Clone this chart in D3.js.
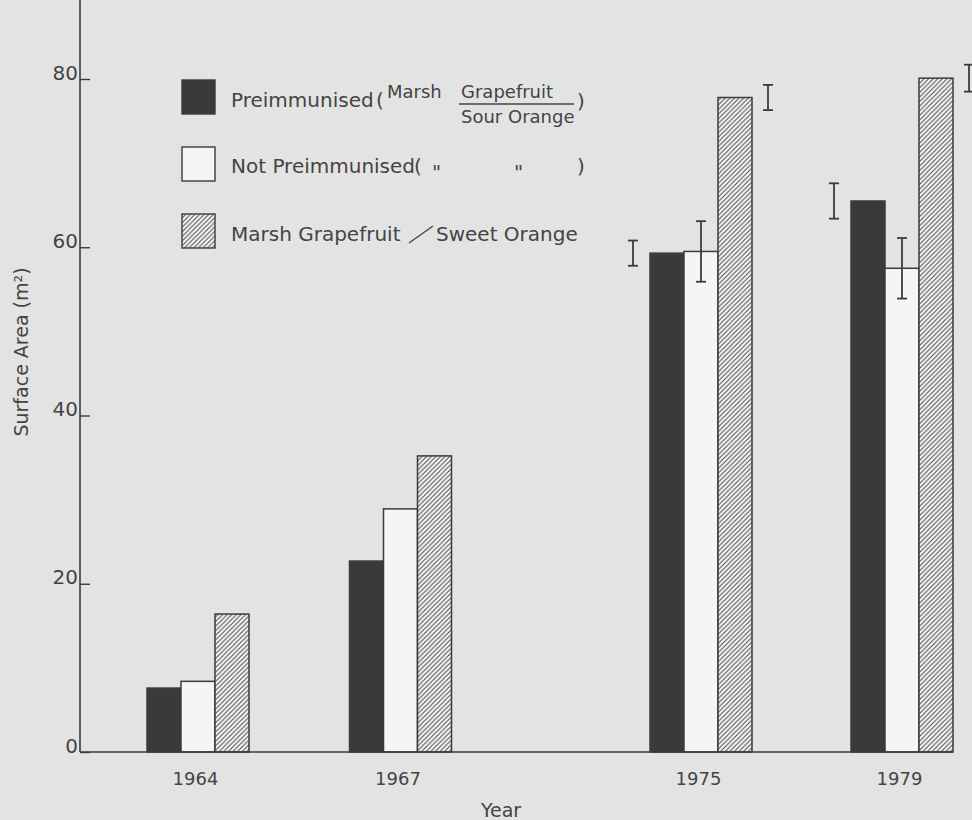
<!DOCTYPE html>
<html>
<head>
<meta charset="utf-8">
<script src="https://cdn.jsdelivr.net/npm/d3@7/dist/d3.min.js"></script>
<style>
  body { margin: 0; background: #e3e3e3; }
  svg { display: block; font-family: "DejaVu Sans", sans-serif; }
  .label-axis { font-size: 19px; fill: #444; }
  .label-axis-tick { font-size: 20px; fill: #444; }
  .label-axis-x-tick { font-size: 18px; fill: #444; }
  .legend-text { font-size: 20px; fill: #444; }
  .legend-small { font-size: 18px; fill: #444; }
</style>
</head>
<body>
<div id="chart"></div>
<script>
const years = [1964, 1967, 1975, 1979];
const yearLabels = ['1964', '1967', '1975', '1979'];
const seriesKeys = ['pre', 'notPre', 'sweet'];

const preimmunised = [7.6, 22.7, 59.3, 65.5];
const notPreimmunised = [8.4, 28.9, 59.5, 57.5];
const sweetOrange = [16.4, 35.2, 77.8, 80.1];

// half length of the error bars, only given for 1975 and 1979
const preimmunisedErr = [null, null, 1.5, 2.1];
const notPreimmunisedErr = [null, null, 3.6, 3.6];
const sweetOrangeErr = [null, null, 1.5, 1.6];

const yTicks = [0, 20, 40, 60, 80];

const width = 972;
const height = 820;
const axisLeftX = 80;
const axisRightX = 953;
const ink = '#3b3b3b';

const values = { pre: preimmunised, notPre: notPreimmunised, sweet: sweetOrange };
const errors = { pre: preimmunisedErr, notPre: notPreimmunisedErr, sweet: sweetOrangeErr };
const fills = { pre: '#3a3a3a', notPre: '#f5f5f5', sweet: 'url(#hatch)' };

const rows = years.flatMap((yr, i) =>
  seriesKeys.map((k) => ({ year: yr, key: k, value: values[k][i], err: errors[k][i] }))
);

const svg = d3
  .select('#chart')
  .append('svg')
  .attr('width', width)
  .attr('height', height)
  .attr('viewBox', '0 0 ' + width + ' ' + height);

// hatch pattern for the sweet orange bars
const pattern = svg
  .append('defs')
  .append('pattern')
  .attr('id', 'hatch')
  .attr('patternUnits', 'userSpaceOnUse')
  .attr('width', 4.6)
  .attr('height', 4.6);
pattern.append('rect').attr('width', 4.6).attr('height', 4.6).attr('fill', '#f5f5f5');
pattern
  .append('path')
  .attr('d', 'M0,4.6 L4.6,0 M-1,1 L1,-1 M3.6,5.6 L5.6,3.6')
  .attr('stroke', '#4a4a4a')
  .attr('stroke-width', 1);

const y = d3.scaleLinear().domain([0, 80]).range([752, 79]);
// groups are not evenly spaced in time, so the year scale is piecewise
const x = d3.scaleLinear().domain(years).range([198, 400.5, 701, 902]);
const band = d3.scaleBand().domain(seriesKeys).range([-51, 51]);

drawBars();
drawErrorBars();
drawAxisY();
drawAxisX();
drawLegend();

function drawBars() {
  svg
    .append('g')
    .selectAll('rect')
    .data(rows)
    .enter()
    .append('rect')
    .attr('x', (d) => x(d.year) + band(d.key))
    .attr('y', (d) => y(d.value))
    .attr('width', band.bandwidth())
    .attr('height', (d) => y(0) - y(d.value))
    .attr('fill', (d) => fills[d.key])
    .attr('stroke', ink)
    .attr('stroke-width', 1.5);
}

function errorX(d) {
  const left = x(d.year) + band(d.key);
  if (d.key === 'pre') return left - 17;
  if (d.key === 'sweet') return left + band.bandwidth() + 16;
  return left + band.bandwidth() / 2;
}

function drawErrorBars() {
  const g = svg.append('g').attr('stroke', ink).attr('stroke-width', 1.8);
  const withErr = rows.filter((d) => d.err != null);
  const cap = 5;

  g.selectAll('line.stem')
    .data(withErr)
    .enter()
    .append('line')
    .attr('class', 'stem')
    .attr('x1', errorX)
    .attr('x2', errorX)
    .attr('y1', (d) => y(d.value + d.err))
    .attr('y2', (d) => y(d.value - d.err));

  g.selectAll('line.cap-top')
    .data(withErr)
    .enter()
    .append('line')
    .attr('class', 'cap-top')
    .attr('x1', (d) => errorX(d) - cap)
    .attr('x2', (d) => errorX(d) + cap)
    .attr('y1', (d) => y(d.value + d.err))
    .attr('y2', (d) => y(d.value + d.err));

  g.selectAll('line.cap-bottom')
    .data(withErr)
    .enter()
    .append('line')
    .attr('class', 'cap-bottom')
    .attr('x1', (d) => errorX(d) - cap)
    .attr('x2', (d) => errorX(d) + cap)
    .attr('y1', (d) => y(d.value - d.err))
    .attr('y2', (d) => y(d.value - d.err));
}

function drawAxisY() {
  const yAxis = d3.axisLeft(y).tickValues(yTicks).tickSize(-10).tickPadding(2);
  const g = svg
    .append('g')
    .attr('transform', 'translate(' + axisLeftX + ',0)')
    .call(yAxis)
    .attr('font-size', null)
    .attr('font-family', null);
  g.select('.domain').remove();
  g.selectAll('.tick line').attr('stroke', ink).attr('stroke-width', 1.4);
  g.selectAll('.tick text')
    .attr('class', 'label-axis-tick')
    .attr('fill', null)
    .attr('dy', 0);

  svg
    .append('line')
    .attr('x1', axisLeftX)
    .attr('x2', axisLeftX)
    .attr('y1', 0)
    .attr('y2', y(0))
    .attr('stroke', ink)
    .attr('stroke-width', 1.6);

  svg
    .append('text')
    .attr('class', 'label-axis')
    .attr('text-anchor', 'middle')
    .attr('transform', 'translate(28,352) rotate(-90)')
    .attr('font-size', 18)
    .text('Surface  Area (m²)');
}

function drawAxisX() {
  const xAxis = d3
    .axisBottom(x)
    .tickValues(years)
    .tickFormat((d, i) => yearLabels[i])
    .tickSize(0);
  const g = svg
    .append('g')
    .attr('transform', 'translate(0,' + y(0) + ')')
    .call(xAxis)
    .attr('font-size', null)
    .attr('font-family', null);
  g.select('.domain').remove();
  g.selectAll('.tick text')
    .attr('class', 'label-axis-x-tick')
    .attr('fill', null)
    .attr('y', 33)
    .attr('dx', -3)
    .attr('dy', 0);

  svg
    .append('line')
    .attr('x1', axisLeftX)
    .attr('x2', axisRightX)
    .attr('y1', y(0))
    .attr('y2', y(0))
    .attr('stroke', ink)
    .attr('stroke-width', 1.6);

  svg
    .append('text')
    .attr('class', 'label-axis')
    .attr('text-anchor', 'middle')
    .attr('x', 501)
    .attr('y', 817)
    .text('Year');
}

function drawLegend() {
  const g = svg.append('g');
  const rowTop = { pre: 80, notPre: 147, sweet: 214 };

  g.selectAll('rect')
    .data(seriesKeys)
    .enter()
    .append('rect')
    .attr('x', 182)
    .attr('y', (k) => rowTop[k])
    .attr('width', 33)
    .attr('height', 34)
    .attr('fill', (k) => fills[k])
    .attr('stroke', ink)
    .attr('stroke-width', 1.4);

  const big = (tx, ty, s) =>
    g.append('text').attr('class', 'legend-text').attr('x', tx).attr('y', ty).text(s);
  const small = (tx, ty, s) =>
    g.append('text').attr('class', 'legend-small').attr('x', tx).attr('y', ty).text(s);

  // Preimmunised (Marsh Grapefruit / Sour Orange)
  big(231, 107, 'Preimmunised');
  big(376, 107, '(');
  small(387, 98, 'Marsh');
  small(461, 98, 'Grapefruit');
  g.append('line')
    .attr('x1', 459).attr('x2', 574)
    .attr('y1', 104).attr('y2', 104)
    .attr('stroke', '#444').attr('stroke-width', 1.4);
  small(461, 123, 'Sour Orange');
  big(577, 108, ')');

  // Not Preimmunised ( " " )
  big(231, 173, 'Not Preimmunised');
  big(414, 173, '(');
  big(432, 179, '"');
  big(514, 179, '"');
  big(577, 173, ')');

  // Marsh Grapefruit / Sweet Orange
  big(231, 241, 'Marsh Grapefruit');
  g.append('line')
    .attr('x1', 409).attr('y1', 243)
    .attr('x2', 433).attr('y2', 226)
    .attr('stroke', '#444').attr('stroke-width', 1.4);
  big(436, 241, 'Sweet Orange');
}
</script>
</body>
</html>
